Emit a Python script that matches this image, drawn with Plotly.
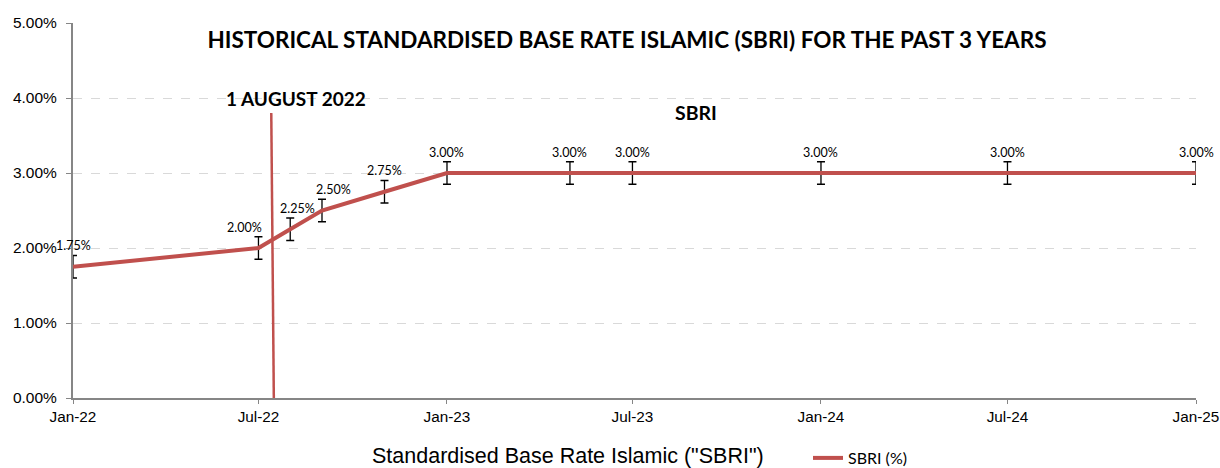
import plotly.graph_objects as go

# ---- data ----
dates = ["2022-01-01", "2022-07-01", "2022-08-01", "2022-09-01", "2022-11-01",
         "2023-01-01", "2023-05-01", "2023-07-01", "2024-01-01", "2024-07-01", "2025-01-01"]
sbri = [1.75, 2.00, 2.25, 2.50, 2.75, 3.00, 3.00, 3.00, 3.00, 3.00, 3.00]
err = [0.15] * len(sbri)
labels = [f"{v:.2f}%" for v in sbri]
label_xshift = [0, -14, 7, 12, 0, 0, 0, 0, 0, 0, 0]

tick_vals = ["2022-01-01", "2022-07-01", "2023-01-01", "2023-07-01",
             "2024-01-01", "2024-07-01", "2025-01-01"]
tick_text = ["Jan-22", "Jul-22", "Jan-23", "Jul-23", "Jan-24", "Jul-24", "Jan-25"]
y_ticks = [0, 1, 2, 3, 4, 5]
y_text = ["0.00%", "1.00%", "2.00%", "3.00%", "4.00%", "5.00%"]

RED = "#C0504D"
LABEL_FONT = "Lato, 'Open Sans', sans-serif"
ARIAL = "'Liberation Sans', Arial, sans-serif"

# figure geometry (body margin removed by post_script)
W, H = 1220, 468
ML, MR, MT, MB = 73, 24, 23, 70
PW, PH = W - ML - MR, H - MT - MB

fig = go.Figure()
fig.add_trace(go.Scatter(
    x=dates, y=sbri, mode="lines", name="SBRI (%)",
    line=dict(color=RED, width=4),
    error_y=dict(type="data", array=err, visible=True, color="#000000",
                 thickness=1.3, width=4),
))

# vertical event line (1 August 2022 marker)
fig.add_shape(type="line", xref="x", yref="y",
              x0="2022-07-13 12:00", y0=3.8, x1="2022-07-16", y1=0,
              line=dict(color=RED, width=2.5), layer="above")

for d, v, t, dx in zip(dates, sbri, labels, label_xshift):
    fig.add_annotation(x=d, y=v, text=t, showarrow=False, xshift=dx, yshift=21,
                       font=dict(family=LABEL_FONT, size=12.5, color="#000000"))

fig.add_annotation(x="2022-08-07", y=4.0, text="<b>1 AUGUST 2022</b>", showarrow=False,
                   font=dict(family=LABEL_FONT, size=19, color="#000000"))
fig.add_annotation(x="2023-09-01", y=3.81, text="<b>SBRI</b>", showarrow=False,
                   font=dict(family=LABEL_FONT, size=19.5, color="#000000"))
fig.add_annotation(xref="paper", yref="paper", x=(567.5 - ML) / PW,
                   y=-(456 - (H - MB)) / PH, xanchor="center", yanchor="middle",
                   text='Standardised Base Rate Islamic ("SBRI")', showarrow=False,
                   font=dict(family=ARIAL, size=21.5, color="#000000"))

fig.update_layout(
    width=W, height=H,
    margin=dict(l=ML, r=MR, t=MT, b=MB, pad=0, autoexpand=False),
    paper_bgcolor="white", plot_bgcolor="white",
    title=dict(text="<b>HISTORICAL STANDARDISED BASE RATE ISLAMIC (SBRI) FOR THE PAST 3 YEARS</b>",
               x=627/W, xanchor="center", xref="container",
               y=1 - 40/H, yanchor="middle", yref="container",
               font=dict(family=LABEL_FONT, size=22.5, color="#000000")),
    showlegend=True,
    legend=dict(orientation="h", xref="paper", yref="paper",
                x=(808 - ML) / PW, y=-(458 - (H - MB)) / PH,
                xanchor="left", yanchor="middle",
                font=dict(family=LABEL_FONT, size=16, color="#000000"),
                bgcolor="rgba(0,0,0,0)"),
    xaxis=dict(type="date", range=["2022-01-01", "2025-01-01"],
               tickvals=tick_vals, ticktext=tick_text,
               showgrid=False, zeroline=False,
               showline=True, linecolor="#868686", linewidth=2,
               ticks="outside", ticklen=4, tickcolor="#868686",
               tickfont=dict(family=ARIAL, size=15.3, color="#000000")),
    yaxis=dict(range=[0, 5], tickvals=y_ticks, ticktext=y_text,
               showgrid=True, gridcolor="#D9D9D9", griddash="dash", gridwidth=1,
               zeroline=False,
               showline=True, linecolor="#868686", linewidth=2,
               ticks="outside", ticklen=5, tickcolor="#868686", ticklabelstandoff=6,
               tickfont=dict(family=ARIAL, size=15.5, color="#000000")),
)

fig.write_html("out.html",
               config={"displayModeBar": False},
               post_script="document.body.style.margin='0';"
                           "document.documentElement.style.overflow='hidden';"
                           "document.body.style.overflow='hidden';")
